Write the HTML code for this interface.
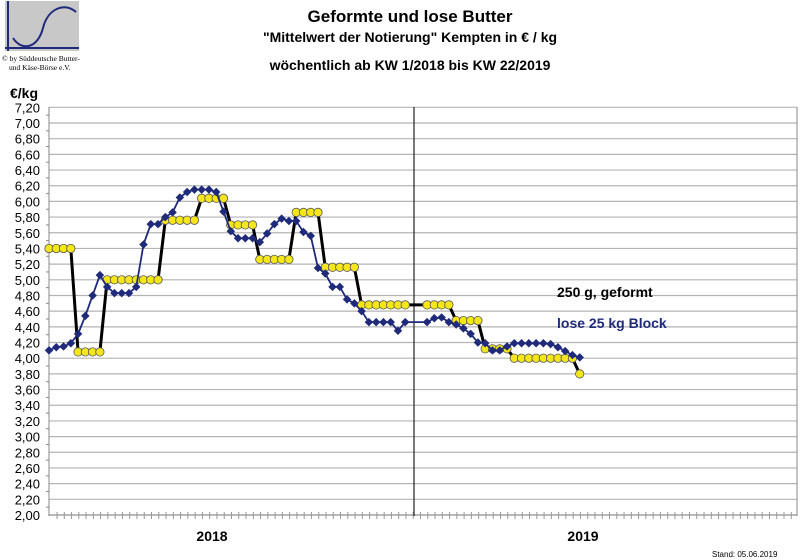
<!DOCTYPE html>
<html><head><meta charset="utf-8"><style>
body{margin:0;background:#fff;width:800px;height:560px;overflow:hidden;font-family:"Liberation Sans",Arial,sans-serif}
svg{display:block}
</style></head><body>
<svg id="c" width="800" height="560" xmlns="http://www.w3.org/2000/svg">
<g>
<rect x="5" y="1" width="74" height="50" fill="#c8c8c8"/>
<line x1="8" y1="1" x2="8" y2="51" stroke="#1f2a7a" stroke-width="2"/>
<line x1="5" y1="48" x2="79" y2="48" stroke="#1f2a7a" stroke-width="2"/>
<path d="M13,38 C22,52 38,48 43,28 C48,8 65,2 76,12" fill="none" stroke="#1f2a7a" stroke-width="2"/>
</g>
<text x="2" y="61" font-family="Liberation Serif,serif" font-size="7.5">© by Süddeutsche Butter-</text>
<text x="9" y="70" font-family="Liberation Serif,serif" font-size="7.5">und Käse-Börse e.V.</text>
<text x="410" y="22" text-anchor="middle" font-size="17" font-weight="bold">Geformte und lose Butter</text>
<text x="410" y="42" text-anchor="middle" font-size="14" font-weight="bold">"Mittelwert der Notierung" Kempten in € / kg</text>
<text x="410" y="70" text-anchor="middle" font-size="14" font-weight="bold">wöchentlich ab KW 1/2018 bis KW 22/2019</text>
<text x="10" y="98" font-size="14" font-weight="bold">€/kg</text>
<g id="grid"></g><g id="axes"></g><g id="series"></g>
<text x="557" y="297" font-size="14" font-weight="bold" fill="#000">250 g, geformt</text>
<text x="557" y="328" font-size="14" font-weight="bold" fill="#1f2a7a">lose 25 kg Block</text>
<text x="212" y="541" text-anchor="middle" font-size="14" font-weight="bold">2018</text>
<text x="583" y="541" text-anchor="middle" font-size="14" font-weight="bold">2019</text>
<text x="712" y="557" font-size="8">Stand: 05.06.2019</text>
</svg>
<script>
const yTicks=[2.0,2.2,2.4,2.6,2.8,3.0,3.2,3.4,3.6,3.8,4.0,4.2,4.4,4.6,4.8,5.0,5.2,5.4,5.6,5.8,6.0,6.2,6.4,6.6,6.8,7.0,7.2];
// weeks 1..52 = 2018, 53..74 = 2019 KW1..22 ; null = no value
const geformt2018=[5.40,5.40,5.40,5.40,4.08,4.08,4.08,4.08,5.00,5.00,5.00,5.00,5.00,5.00,5.00,5.00,5.76,5.76,5.76,5.76,5.76,6.04,6.04,6.04,6.04,5.70,5.70,5.70,5.70,5.26,5.26,5.26,5.26,5.26,5.86,5.86,5.86,5.86,5.16,5.16,5.16,5.16,5.16,4.68,4.68,4.68,4.68,4.68,4.68,4.68,null,null];
const geformt2019=[4.68,4.68,4.68,4.68,4.48,4.48,4.48,4.48,4.12,4.12,4.12,4.12,4.00,4.00,4.00,4.00,4.00,4.00,4.00,4.00,4.00,3.80];
const lose2018=[4.10,4.14,4.15,4.19,4.31,4.54,4.80,5.06,4.91,4.83,4.83,4.83,4.91,5.45,5.71,5.71,5.80,5.86,6.05,6.12,6.15,6.15,6.15,6.12,5.87,5.62,5.53,5.53,5.53,5.48,5.59,5.71,5.78,5.75,5.75,5.61,5.56,5.15,5.08,4.91,4.91,4.75,4.70,4.60,4.46,4.46,4.46,4.46,4.35,4.46,null,null];
const lose2019=[4.46,4.51,4.52,4.46,4.43,4.38,4.31,4.20,4.19,4.10,4.10,4.15,4.19,4.19,4.19,4.19,4.19,4.18,4.14,4.09,4.04,4.01];
const NS="http://www.w3.org/2000/svg";
const X0=49,DX=7.27,Y0=515,PX=78.4;
const xs=i=>X0+i*DX, ys=v=>Y0-(v-2)*PX;
function mk(t,a,p){const e=document.createElementNS(NS,t);for(const k in a)e.setAttribute(k,a[k]);p.appendChild(e);return e;}
const grid=document.getElementById('grid'),axes=document.getElementById('axes'),ser=document.getElementById('series');
yTicks.forEach(v=>{
 const l=mk('line',{x1:49,x2:797,y1:ys(v),y2:ys(v),stroke:'#b4b4b4','stroke-width':1.2},grid);
 
 
 const t=mk('text',{x:40,y:ys(v)+5,'text-anchor':'end','font-size':13},axes);
 t.textContent=v.toFixed(2).replace('.',',');
 
 
});
for(let v=2.1;v<7.2;v+=0.2){mk('line',{x1:46,x2:49,y1:ys(v),y2:ys(v),stroke:'#888'},axes);}
mk('line',{x1:49,x2:49,y1:107,y2:516,stroke:'#888'},axes);
mk('line',{x1:797,x2:797,y1:107,y2:516,stroke:'#888'},axes);
mk('line',{x1:49,x2:797,y1:515,y2:515,stroke:'#888'},axes);
for(let x=57;x<797;x+=DX){mk('line',{x1:x,x2:x,y1:512,y2:519,stroke:'#999'},axes);}
const sep=mk('line',{x1:414,x2:414,y1:107,y2:516,stroke:'#222','stroke-width':1.2},axes);


function series(data,color,w,name,marker){
 const pts=[];data.forEach((v,i)=>{if(v!=null)pts.push([xs(i),ys(v)]);});
 const pl=mk('polyline',{points:pts.map(p=>p.join(',')).join(' '),fill:'none',stroke:color,'stroke-width':w},ser);
 
 
 pts.forEach(p=>{
  let m;
  if(marker==='circle')m=mk('circle',{cx:p[0],cy:p[1],r:4.2,fill:'#f5e61c',stroke:'#555','stroke-width':0.8},ser);
  else m=mk('rect',{x:p[0]-3,y:p[1]-3,width:6,height:6,fill:color,transform:`rotate(45 ${p[0]} ${p[1]})`},ser);
  
  
 });
}
series(geformt2018.concat(geformt2019),'#000',3,'geformt','circle');
series(lose2018.concat(lose2019),'#1f2a7a',1.8,'lose','diamond');
</script>
</body></html>
